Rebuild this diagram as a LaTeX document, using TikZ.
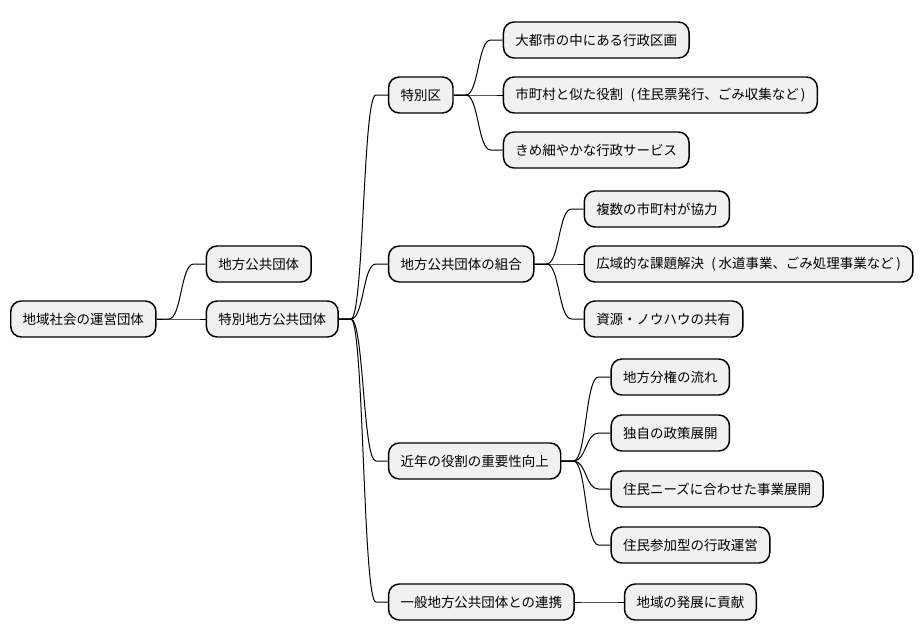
\documentclass[tikz,border=0pt]{standalone}
\usepackage{fontspec}
\setmainfont{Noto Sans CJK JP}
\usetikzlibrary{positioning,calc}
\definecolor{boxfill}{HTML}{F1F1F1}

\begin{document}
\begin{tikzpicture}[x=0.75pt, y=0.75pt, node distance=36.75pt]
    \tikzstyle{topic} = [rectangle, rounded corners=8pt, minimum height=27pt, inner xsep=9pt, draw=black, line width=1.1pt, fill=boxfill, font=\fontsize{10.1pt}{12pt}\selectfont]
    \tikzstyle{link} = [line width=0.75pt, to path={-- ++(12,0) .. controls +(13,0) and +(-13,0) .. ($(\tikztotarget)+(-12,0)$) -- (\tikztotarget)}]
    \useasboundingbox (-10,-321) rectangle (914,319);

    % Root
    \node [topic, anchor=west] (root) at (0,0) {地域社会の運営団体};

    % First level
    \node [topic, right=of root, yshift=41.25pt] (local) {地方公共団体};
    \node [topic, right=of root] (special) {特別地方公共団体};

    % Second level
    \node [topic, right=of special, yshift=168pt] (ward) {特別区};
    \node [topic, right=of special, yshift=41.25pt] (union) {地方公共団体の組合};
    \node [topic, right=of special, yshift=-106.5pt] (recent) {近年の役割の重要性向上};
    \node [topic, right=of special, yshift=-212.25pt] (partner) {一般地方公共団体との連携};

    % Special wards
    \node [topic, right=of ward, yshift=41.25pt] (ward_area) {大都市の中にある行政区画};
    \node [topic, right=of ward] (ward_role) {市町村と似た役割\hspace{0.55em}(\kern1.5pt住民票発行、ごみ収集など\kern1.5pt)};
    \node [topic, right=of ward, yshift=-41.25pt] (ward_service) {きめ細やかな行政サービス};

    % Unions
    \node [topic, right=of union, yshift=41.25pt] (union_coop) {複数の市町村が協力};
    \node [topic, right=of union] (union_wide) {広域的な課題解決\hspace{0.55em}(\kern2pt水道事業、ごみ処理事業など\kern2pt)};
    \node [topic, right=of union, yshift=-41.25pt] (union_share) {資源・ノウハウの共有};

    % Recent role
    \node [topic, right=of recent, yshift=63pt] (recent_decentral) {地方分権の流れ};
    \node [topic, right=of recent, yshift=21pt] (recent_policy) {独自の政策展開};
    \node [topic, right=of recent, yshift=-21pt] (recent_needs) {住民ニーズに合わせた事業展開};
    \node [topic, right=of recent, yshift=-63pt] (recent_join) {住民参加型の行政運営};

    % Cooperation
    \node [topic, right=of partner] (partner_growth) {地域の発展に貢献};

    % Connections
    \draw [link] (root.east) to (local.west);
    \draw [link] (root.east) to (special.west);

    \draw [link] (special.east) to (ward.west);
    \draw [link] (special.east) to (union.west);
    \draw [link] (special.east) to (recent.west);
    \draw [link] (special.east) to (partner.west);

    \draw [link] (ward.east) to (ward_area.west);
    \draw [link] (ward.east) to (ward_role.west);
    \draw [link] (ward.east) to (ward_service.west);

    \draw [link] (union.east) to (union_coop.west);
    \draw [link] (union.east) to (union_wide.west);
    \draw [link] (union.east) to (union_share.west);

    \draw [link] (recent.east) to (recent_decentral.west);
    \draw [link] (recent.east) to (recent_policy.west);
    \draw [link] (recent.east) to (recent_needs.west);
    \draw [link] (recent.east) to (recent_join.west);

    \draw [link] (partner.east) to (partner_growth.west);
\end{tikzpicture}
\end{document}
